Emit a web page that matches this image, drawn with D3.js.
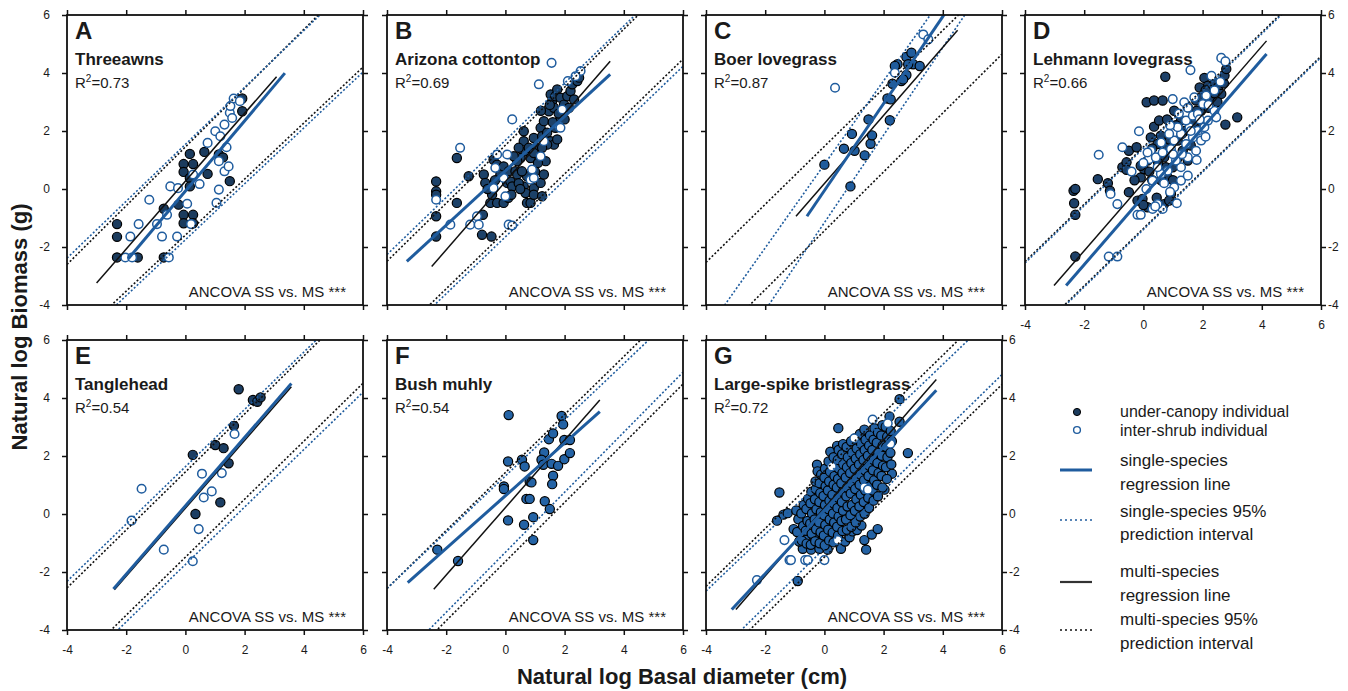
<!DOCTYPE html>
<html>
<head>
<meta charset="utf-8">
<script src="https://cdn.jsdelivr.net/npm/d3@7"></script>
<style>
  body { margin: 0; background: #fff; }
  text { font-family: Arial, "Liberation Sans", sans-serif; fill: #1a1a1a; }
</style>
</head>
<body>
<svg id="chart" width="1348" height="691"></svg>
<script>
// ---- data ----
const letters = ["A", "B", "C", "D", "E", "F", "G"];
const species = ["Threeawns", "Arizona cottontop", "Boer lovegrass", "Lehmann lovegrass",
                 "Tanglehead", "Bush muhly", "Large-spike bristlegrass"];
const r2 = [0.73, 0.69, 0.87, 0.66, 0.54, 0.54, 0.72];
const ticks = [-4, -2, 0, 2, 4, 6];

// regression lines: [intercept, slope, xFrom, xTo]
const ssReg = [[-0.07, 1.21, -1.93, 3.36], [0.63, 0.939, -3.33, 3.54], [-0.055, 1.5, -0.59, 4.1],
               [-0.25, 1.18, -2.61, 4.16], [0.28, 1.178, -2.43, 3.58], [0.63, 0.909, -3.3, 3.19],
               [0.13, 1.094, -3.13, 3.78]];
const msReg = [[0.27, 1.17, -3.0, 3.08], [0.25, 1.174, -2.49, 3.54], [0.19, 1.174, -0.96, 4.5],
               [0.22, 1.175, -3.02, 4.16], [0.2, 1.17, -2.4, 3.58], [0.22, 1.164, -2.42, 3.19],
               [0.21, 1.171, -2.99, 3.78]];
// prediction intervals: [lowIntercept, lowSlope, highIntercept, highSlope]
const ssPI = [[-1.75, 0.964, 1.54, 0.981], [-1.65, 0.98, 1.68, 0.985], [-1.16, 1.51, 0.85, 1.44],
              [-1.40, 0.99, 1.40, 0.988], [-1.74, 0.99, 1.63, 0.988], [-1.32, 1.035, 1.31, 0.969],
              [-1.19, 1.0, 1.25, 0.977]];
const msPI = [[-1.59, 0.966, 1.45, 1.013], [-1.46, 0.99, 1.51, 1.0], [-1.44, 1.015, 1.47, 1.0],
              [-1.36, 0.99, 1.45, 0.988], [-1.49, 1.0, 1.45, 1.0], [-1.64, 1.02, 1.43, 1.0],
              [-1.49, 0.993, 1.49, 0.996]];

// under-canopy (filled) and inter-shrub (open) individuals, [lnBasal, lnBiomass]
const underA = [[-2.31,-1.21],[-2.31,-1.65],[-2.31,-2.36],[-1.61,-2.36],[-0.73,-0.68],[-0.73,-2.36],[-0.06,0.86],
  [0.15,1.21],[-0.06,0.59],[0.26,0.86],[0.15,0.38],[0.15,0.09],[-0.06,-0.89],[-0.06,-1.18],[0.26,-0.89],
  [0.26,-1.18],[0.64,1.28],[0.75,0.52],[1.13,1.19],[1.27,1.09],[1.5,0.27],[1.92,3.12],[1.92,2.68],[-0.23,-0.54]];
const interA = [[-2.03,-2.36],[-1.8,-2.36],[-1.86,-1.64],[-1.58,-1.21],[-1.22,-0.37],[-0.96,-1.21],[-0.79,-1.64],
  [-0.62,-0.89],[-0.51,0.09],[-0.56,-2.36],[-0.28,-1.64],[-0.25,0.03],[0.06,-0.51],[0.19,-1.21],[0.26,0.5],
  [0.48,0.17],[0.75,1.59],[1.01,1.99],[1.13,0.96],[1.18,1.82],[1.05,-0.48],[1.13,-0.02],[1.32,0.61],[1.46,0.78],
  [1.39,1.44],[1.32,2.22],[1.5,2.63],[1.52,2.86],[1.63,3.12],[1.58,2.45],[1.84,3.03]];

const underB = [[-2.34,0.26],[-2.34,-0.08],[-2.34,-0.2],[-2.34,-0.94],[-2.34,-1.64],[-1.64,1.07],[-1.64,-0.48],
  [-1.24,0.44],[-0.79,-1.58],[-0.47,-1.64],[-0.76,-0.89],[-0.73,0.5],[-0.68,0.21],[-0.51,-0.48],[-0.28,-0.48],
  [-0.06,-0.48],[-0.45,-0.2],[-0.4,1.01],[-0.28,0.84],[-0.17,0.5],[-0.06,0.78],[0.06,0.21],[0.17,0.26],[0.23,0.09],
  [0.11,0.61],[0.34,0.61],[0.4,0.5],[0.51,1.07],[0.62,1.99],[0.62,1.65],[0.68,1.3],[0.79,1.42],[0.62,0.09],
  [0.68,-0.14],[0.73,-0.48],[0.85,-0.48],[0.96,0.03],[0.96,-0.2],[1.24,-0.25],[1.19,0.21],[1.3,0.5],[1.36,0.96],
  [0.96,1.76],[1.02,1.42],[1.07,1.07],[1.19,2.11],[1.24,1.82],[1.3,2.34],[1.41,1.94],[1.47,2.68],[1.53,3.26],
  [1.58,3.03],[1.64,2.8],[1.69,3.2],[1.75,3.43],[1.86,3.15],[1.98,2.91],[2.09,3.2],[2.2,3.38],[2.32,3.09],
  [2.26,3.61],[2.43,3.72],[2.49,3.84],[1.86,2.45],[1.69,2.11],[1.53,1.65],[1.64,1.53],[1.75,1.71],[1.41,1.53],
  [1.24,1.42],[0.45,1.42],[0.4,0.96],[0.28,1.13],[0.85,1.07],[0.96,1.24],[0.73,0.44],[0.56,0.61],[-0.35,0.3],
  [-0.6,0.0],[0.1,-0.3],[0.2,-0.2],[0.45,0.2],[0.5,0.0],[1.0,0.6],[1.1,0.9],[1.2,2.7],[1.6,2.3],[1.8,2.6],
  [2.0,2.4],[2.15,2.8],[1.5,2.9]];
const interB = [[1.56,4.35],[1.13,3.61],[0.23,2.4],[-1.53,1.42],[-2.34,-0.37],[-1.86,-1.23],[-1.19,-1.23],
  [-0.96,-0.94],[-0.9,-1.23],[-0.28,1.19],[-0.34,0.73],[-0.4,0.03],[0.06,1.19],[-0.06,0.38],[0,-0.25],[0.11,-1.23],
  [0.23,-1.26],[0.9,0.67],[0.85,0.32],[0.96,0.38],[1.19,1.13],[1.3,1.65],[1.81,2.17],[1.92,2.74],[2.11,3.72],
  [2.54,4.07],[2.37,3.89],[1.86,2.11]];

const underC = [[0,0.84],[0.88,0.09],[0.66,1.39],[0.93,1.9],[1.02,1.32],[1.36,1.16],[1.56,1.56],[1.61,1.85],
  [1.49,2.4],[2.21,2.37],[2.13,3.12],[2.24,3.09],[2.3,3.63],[2.47,4.3],[2.6,3.72],[2.77,3.93],[2.66,3.78],
  [2.77,4.55],[2.94,4.7],[3.0,4.3],[3.22,4.24],[2.38,4.24],[2.83,4.3]];
const interC = [[0.36,3.49],[3.34,5.33],[3.51,5.16],[2.38,4.01]];

const underD = [[-2.36,-0.06],[-2.3,0],[-2.34,-0.49],[-2.3,-0.89],[-2.3,-2.33],[-1.54,0.34],[-1.2,0.2],
  [-1.13,-0.06],[-0.71,0.75],[-0.57,0.92],[-0.57,0.66],[-0.49,1.32],[-0.23,1.44],[-0.49,-0.11],[-0.2,-0.4],
  [-0.03,-0.34],[0.14,-0.63],[-0.09,0.4],[0.02,0.69],[0.14,0.98],[-0.09,0.8],[0.11,2.99],[0.36,3.05],[0.65,3.05],
  [0.74,3.87],[0.36,2.15],[0.59,1.84],[0.48,1.55],[0.25,1.78],[0.53,2.36],[0.7,1.09],[0.76,0.75],[0.82,0.4],
  [0.93,-0.17],[0.53,-0.52],[0.7,-0.52],[0.87,-0.4],[1.04,2.7],[1.27,2.36],[1.5,2.82],[1.78,3.05],[1.95,3.16],
  [2.06,3.83],[2.18,3.56],[2.4,3.68],[2.52,3.51],[2.72,3.64],[2.74,3.91],[2.8,4.14],[2.63,3.28],[2.29,3.05],
  [1.95,2.7],[2.77,2.22],[3.17,2.47],[1.16,1.67],[1.33,1.32],[1.5,0.98],[0.99,0.75],[1.16,1.07],[0.82,1.44],
  [0.3,0.3],[0.5,0.9],[0.9,1.7],[1.1,2.2],[1.4,2.0],[1.7,2.3],[2.0,2.2],[2.2,2.8],[2.4,3.3],[1.9,3.5],
  [1.3,1.9],[0.6,0.3],[0.2,0.6],[-0.3,0.3],[0.0,-0.55],[1.0,0.3],[1.6,1.5],[1.8,2.7],[2.5,3.0],[0.8,2.4],
  [0.3,1.4],[2.1,3.4],[0.45,-0.3]];
const interD = [[-1.51,1.18],[-0.71,1.44],[-0.88,-0.52],[-1.11,-0.17],[-0.15,1.99],[-0.2,-0.89],[-0.09,-0.89],
  [0.31,-0.69],[0.65,-0.69],[0.48,-0.52],[1.13,-0.49],[-1.17,-2.33],[-0.88,-2.33],[1.59,4.1],[2.63,4.52],
  [2.77,4.4],[0.99,3.1],[1.38,2.99],[1.72,3.16],[2.01,2.93],[2.12,3.22],[2.4,2.7],[2.46,2.47],[0.25,1.32],
  [0.19,1.03],[0.42,1.09],[0.65,1.26],[0.93,1.38],[1.04,1.67],[1.27,1.9],[1.44,1.55],[1.56,2.13],[1.67,1.78],
  [1.84,2.01],[1.95,1.67],[1.78,1.32],[2.06,2.13],[2.18,2.36],[1.5,1.09],[1.27,0.75],[1.1,0.98],[0.82,0.63],
  [0.59,0.52],[0.31,0.29],[0.48,0.75],[0.87,1.9],[1.16,2.13],[1.44,2.36],[1.67,2.53],[1.84,2.59],[1.27,0.29],
  [1.5,0.46],[1.04,0.06],[0.14,1.26],[0.6,1.6],[0.9,2.2],[1.2,2.6],[1.5,2.8],[1.9,2.4],[2.2,2.9],[2.4,3.4],
  [0.7,0.2],[1.0,1.2],[1.3,1.2],[1.6,2.0],[1.8,1.0],[2.1,1.8],[0.1,0.0],[0.4,-0.6],[0.9,-0.1],[2.6,3.7],
  [2.3,3.9],[0.0,0.9],[-0.4,0.6]];

const underE = [[1.8,4.3],[2.28,3.93],[2.43,3.87],[2.54,4.02],[1.64,3.04],[1.01,2.38],[1.29,2.27],[0.25,2.04],
  [1.46,1.75],[1.18,0.4],[0.34,0]];
const interE = [[1.66,2.76],[1.23,1.41],[0.56,1.39],[0.89,0.78],[0.62,0.57],[0.45,-0.52],[0.25,-1.63],
  [-0.73,-1.23],[-1.48,0.87],[-1.82,-0.23]];

const underF = [[0.11,3.41],[-2.3,-1.23],[-1.6,-1.62],[0.09,1.81],[-0.05,0.95],[-0.05,0.86],[0.09,-0.22],
  [0.56,1.87],[0.65,1.64],[0.82,1.12],[0.88,1.09],[0.71,0.52],[0.82,0.52],[0.63,-0.37],[0.94,-0.11],[0.94,-0.9],
  [1.31,2.12],[1.22,1.87],[1.28,1.7],[1.33,0.44],[1.5,0.17],[1.47,2.58],[1.61,2.78],[1.56,1.73],[1.61,1.32],
  [1.58,1.03],[1.78,1.66],[1.9,3.38],[1.95,3.09],[1.99,2.55],[1.99,1.89],[2.18,2.55],[2.18,2.1]];
const interF = [];

const underG = [[-1.52,0.74],[-1.6,-0.23],[-1.38,-0.02],[-1.24,0.03],[-1.04,-0.52],[-0.9,-2.31],[-0.73,-1.2],
  [-0.45,-1.23],[-0.17,-1.2],[0.11,-1.23],[0.56,-1.2],[-0.62,-0.88],[-0.34,-0.82],[0.47,2.96],[0.2,2.15],
  [0.43,2.35],[-0.25,1.7],[-0.23,1.47],[1.41,-1.23],[1.35,-0.9],[1.6,-0.71],[1.8,-0.52],[2.28,1.39],[2.82,2.1],
  [2.54,3.96],[2.2,3.36],[2.54,3.18],[2.03,0.84],[0.7,-0.95],[0.85,-0.8],[0.95,-0.6],[1.1,-0.55],[1.25,-0.4],
  [-0.85,-0.95],
  [-0.92,-0.62],[-0.88,-0.18],[-0.95,0.12],[-0.76,-0.92],[-0.72,-0.41],[-0.78,0.02],[-0.7,0.31],
  [-0.6,-1.02],[-0.63,-0.58],[-0.57,-0.24],[-0.61,0.17],[-0.55,0.52],
  [-0.46,-1.06],[-0.43,-0.68],[-0.48,-0.33],[-0.42,0.02],[-0.47,0.37],[-0.44,0.77],
  [-0.31,-0.94],[-0.28,-0.53],[-0.33,-0.19],[-0.27,0.16],[-0.32,0.51],[-0.29,0.86],[-0.3,1.12],
  [-0.16,-1.01],[-0.13,-0.63],[-0.18,-0.29],[-0.12,0.06],[-0.17,0.41],[-0.14,0.72],[-0.16,1.06],[-0.11,1.36],
  [0.01,-1.08],[-0.02,-0.74],[0.03,-0.38],[-0.01,-0.04],[0.02,0.31],[-0.03,0.62],[0.04,0.96],[0.0,1.26],[0.02,1.56],
  [0.16,-0.91],[0.13,-0.54],[0.18,-0.19],[0.14,0.16],[0.17,0.46],[0.12,0.81],[0.16,1.12],[0.19,1.46],[0.14,1.81],
  [0.31,-0.98],[0.28,-0.64],[0.33,-0.29],[0.29,0.02],[0.32,0.36],[0.27,0.66],[0.31,1.01],[0.34,1.31],[0.29,1.66],[0.31,1.96],
  [0.46,-0.74],[0.43,-0.44],[0.48,-0.09],[0.44,0.21],[0.47,0.56],[0.42,0.91],[0.46,1.21],[0.49,1.56],[0.45,1.86],[0.48,2.21],
  [0.61,-0.59],[0.58,-0.24],[0.63,0.11],[0.59,0.41],[0.62,0.76],[0.57,1.06],[0.61,1.41],[0.64,1.71],[0.6,2.06],[0.63,2.41],
  [0.76,-0.54],[0.73,-0.19],[0.78,0.26],[0.74,0.61],[0.77,0.91],[0.72,1.26],[0.76,1.61],[0.79,1.96],[0.75,2.31],
  [0.91,-0.44],[0.88,-0.04],[0.93,0.31],[0.89,0.71],[0.92,1.06],[0.87,1.41],[0.91,1.76],[0.94,2.11],[0.9,2.51],
  [1.06,-0.29],[1.03,0.11],[1.08,0.51],[1.04,0.86],[1.07,1.21],[1.02,1.56],[1.06,1.91],[1.09,2.26],[1.05,2.61],
  [1.21,-0.09],[1.18,0.26],[1.23,0.66],[1.19,1.01],[1.22,1.36],[1.17,1.71],[1.21,2.06],[1.24,2.41],[1.2,2.76],
  [1.36,0.01],[1.33,0.41],[1.38,0.81],[1.34,1.16],[1.37,1.51],[1.32,1.86],[1.36,2.21],[1.39,2.56],[1.35,2.91],
  [1.51,0.21],[1.48,0.56],[1.53,0.96],[1.49,1.31],[1.52,1.66],[1.47,2.01],[1.51,2.36],[1.54,2.71],
  [1.66,0.46],[1.63,0.81],[1.68,1.16],[1.64,1.51],[1.67,1.86],[1.62,2.21],[1.66,2.56],[1.69,2.96],
  [1.81,0.61],[1.78,1.01],[1.83,1.41],[1.79,1.76],[1.82,2.11],[1.77,2.46],[1.81,2.81],
  [1.96,0.91],[1.93,1.31],[1.98,1.66],[1.94,2.01],[1.97,2.36],[1.92,2.71],[1.96,3.06],
  [2.11,1.21],[2.08,1.61],[2.13,1.96],[2.09,2.31],[2.12,2.66],[2.07,3.01],
  [2.26,1.71],[2.23,2.11],[2.28,2.51],[2.24,2.86]];
const interG = [[-2.28,-2.28],[-1.35,-0.9],[-1.18,-1.59],[-1.13,-1.59],[-0.65,-1.59],[-0.56,-1.59],[0,-1.59],
  [0.45,-0.9],[0.25,1.64],[1.01,2.61],[1.63,3.26],[2.14,3.13],[2.23,2.42],[1.35,0.92],[1.47,0.84]];

const under = [underA, underB, underC, underD, underE, underF, underG];
const inter = [interA, interB, interC, interD, interE, interF, interG];

// ---- layout ----
const svg = d3.select("#chart");
const W = 296, H = 290;
const lefts = [67, 387, 706, 1025];
const tops = [15, 340];
const blue = "#1f5c9e";
const dotFill = ["#1b3b5d", "#1c4168", "#205c9c", "#1d4068", "#1c3e63", "#2463a5", "#2462a4"];
const leftLabels = ["A", "E"], rightLabels = ["D", "G"], bottomLabels = ["D", "E", "F", "G"];

letters.forEach((id, i) => {
  const col = i < 4 ? i : i - 4;
  const row = i < 4 ? 0 : 1;
  const g = svg.append("g").attr("transform", `translate(${lefts[col]},${tops[row]})`);
  const x = d3.scaleLinear().domain([-4, 6]).range([0, W]);
  const y = d3.scaleLinear().domain([-4, 6]).range([H, 0]);
  const fmt = d => String(d);

  svg.append("clipPath").attr("id", "clip-" + id)
    .append("rect").attr("width", W).attr("height", H);

  // axes, ticks outward on all four sides
  const axes = [
    [d3.axisTop(x), null, false],
    [d3.axisBottom(x).tickPadding(10), `translate(0,${H})`, bottomLabels.includes(id)],
    [d3.axisLeft(y).tickPadding(12), null, leftLabels.includes(id)],
    [d3.axisRight(y).tickPadding(2), `translate(${W},0)`, rightLabels.includes(id)]
  ];
  axes.forEach(([ax, tr, show]) => {
    const a = g.append("g")
      .call(ax.tickValues(ticks).tickSize(5).tickFormat(show ? fmt : ""));
    if (tr) a.attr("transform", tr);
    a.select(".domain").remove();
    a.selectAll(".tick line").attr("stroke", "#111").attr("stroke-width", 1.5);
    a.selectAll(".tick text").style("font-size", "12px").style("font-family", "Arial, 'Liberation Sans', sans-serif")
      .attr("fill", "#222");
  });

  const plot = g.append("g").attr("clip-path", `url(#clip-${id})`);

  // points: under-canopy first, inter-shrub on top
  plot.append("g").selectAll("circle").data(under[i]).join("circle")
    .attr("cx", d => x(d[0])).attr("cy", d => y(d[1])).attr("r", 4.6)
    .attr("fill", dotFill[i]).attr("stroke", "#000").attr("stroke-width", 1.2);
  plot.append("g").selectAll("circle").data(inter[i]).join("circle")
    .attr("cx", d => x(d[0])).attr("cy", d => y(d[1])).attr("r", 4.3)
    .attr("fill", "#fff").attr("stroke", blue).attr("stroke-width", 1.5);

  // prediction intervals
  const piLine = (b0, b1, color) => plot.append("line")
    .attr("x1", x(-4)).attr("y1", y(b0 + b1 * -4))
    .attr("x2", x(6)).attr("y2", y(b0 + b1 * 6))
    .attr("stroke", color).attr("stroke-width", 1.6).attr("stroke-dasharray", "2,2");
  piLine(msPI[i][0], msPI[i][1], "#111");
  piLine(msPI[i][2], msPI[i][3], "#111");
  piLine(ssPI[i][0], ssPI[i][1], blue);
  piLine(ssPI[i][2], ssPI[i][3], blue);

  // regression lines
  const reg = (r, color, w) => plot.append("line")
    .attr("x1", x(r[2])).attr("y1", y(r[0] + r[1] * r[2]))
    .attr("x2", x(r[3])).attr("y2", y(r[0] + r[1] * r[3]))
    .attr("stroke", color).attr("stroke-width", w);
  reg(msReg[i], "#111", 1.5);
  reg(ssReg[i], blue, 3);

  // frame
  g.append("rect").attr("width", W).attr("height", H)
    .attr("fill", "none").attr("stroke", "#111").attr("stroke-width", 1.8);

  // labels
  g.append("text").attr("x", 8).attr("y", 24).style("font-size", "24px").style("font-weight", "bold").text(id);
  g.append("text").attr("x", 8).attr("y", 50).style("font-size", "17px").style("font-weight", "bold").text(species[i]);
  const t = g.append("text").attr("x", 8).attr("y", 73).style("font-size", "15px");
  t.append("tspan").text("R");
  t.append("tspan").attr("dy", -6).style("font-size", "10px").text("2");
  t.append("tspan").attr("dy", 6).text("=" + r2[i].toFixed(2));
  g.append("text").attr("x", W - 17).attr("y", H - 8).attr("text-anchor", "end")
    .style("font-size", "15px").text("ANCOVA SS vs. MS ***");
});

// axis titles
svg.append("text").attr("transform", "translate(27,327) rotate(-90)").attr("text-anchor", "middle")
  .style("font-size", "22px").style("font-weight", "bold").text("Natural log Biomass (g)");
svg.append("text").attr("x", 682).attr("y", 684).attr("text-anchor", "middle")
  .style("font-size", "22px").style("font-weight", "bold").text("Natural log Basal diameter (cm)");

// legend
const leg = svg.append("g").style("font-size", "17px");
leg.append("circle").attr("cx", 1077).attr("cy", 412).attr("r", 3.6)
  .attr("fill", "#1b3b5d").attr("stroke", "#000").attr("stroke-width", 1);
leg.append("circle").attr("cx", 1077).attr("cy", 430).attr("r", 3.4)
  .attr("fill", "#fff").attr("stroke", blue).attr("stroke-width", 1.4);
leg.append("line").attr("x1", 1060).attr("x2", 1092).attr("y1", 470).attr("y2", 470)
  .attr("stroke", blue).attr("stroke-width", 3);
leg.append("line").attr("x1", 1060).attr("x2", 1092).attr("y1", 520).attr("y2", 520)
  .attr("stroke", blue).attr("stroke-width", 1.4).attr("stroke-dasharray", "2,3");
leg.append("line").attr("x1", 1060).attr("x2", 1092).attr("y1", 582).attr("y2", 582)
  .attr("stroke", "#333").attr("stroke-width", 2.2);
leg.append("line").attr("x1", 1060).attr("x2", 1092).attr("y1", 630).attr("y2", 630)
  .attr("stroke", "#111").attr("stroke-width", 1.4).attr("stroke-dasharray", "2,3");
const legText = [["under-canopy individual", 417, 16], ["inter-shrub individual", 436, 16],
  ["single-species", 466, 17], ["regression line", 490, 17], ["single-species 95%", 517, 17],
  ["prediction interval", 540, 17], ["multi-species", 577, 17], ["regression line", 601, 17],
  ["multi-species 95%", 625, 17], ["prediction interval", 649, 17]];
leg.selectAll("text").data(legText).join("text")
  .attr("x", 1120).attr("y", d => d[1]).style("font-size", d => d[2] + "px").attr("fill", "#222").text(d => d[0]);
</script>
</body>
</html>
